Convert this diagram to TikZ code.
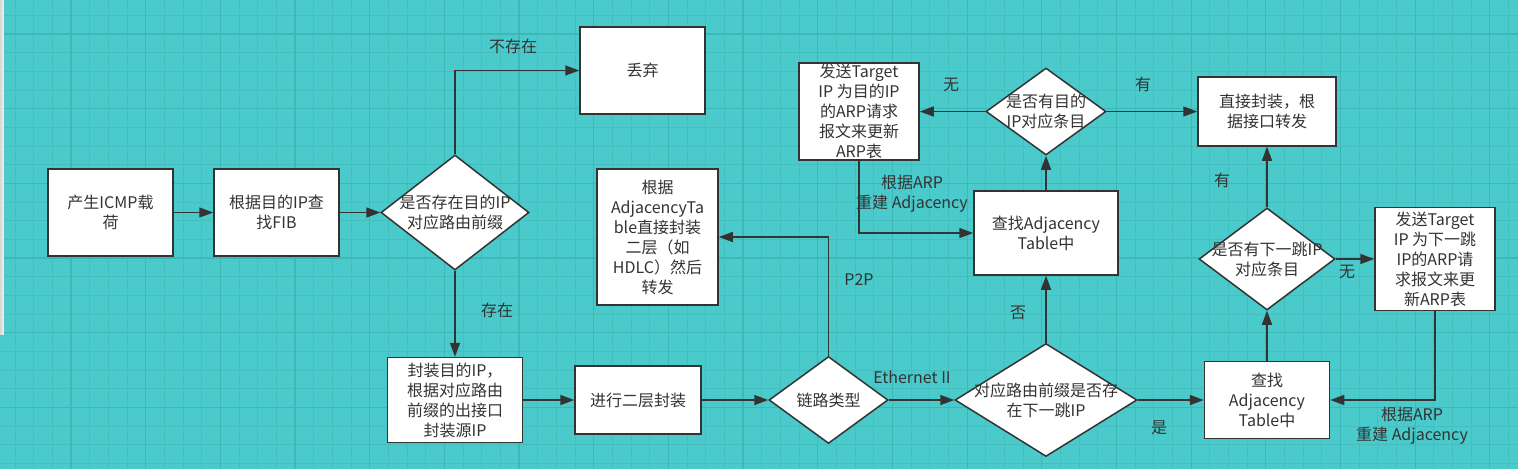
\documentclass[tikz,border=0pt]{standalone}
\usepackage{fontspec}
\setmainfont{Noto Sans CJK SC}
\usetikzlibrary{shapes.geometric,arrows.meta}
\definecolor{bg}{HTML}{4ACACB}
\definecolor{gridminor}{HTML}{43BFC0}
\definecolor{gridmajor}{HTML}{3EB7B8}
\definecolor{ink}{HTML}{333333}
\newcommand\fsz{\fontsize{16}{20}\selectfont}
\tikzset{
  box/.style={draw=ink, line width=1.5pt, fill=white, rectangle, inner sep=0pt, align=center, font=\fsz, text=ink},
  dia/.style={draw=ink, line width=1.5pt, fill=white, diamond, inner sep=0pt},
  txt/.style={align=center, font=\fsz, text=ink, inner sep=0pt},
  lbl/.style={align=center, font=\fsz, text=ink, inner sep=0pt},
  conn/.style={draw=ink, line width=1.5pt, -{Triangle[length=14pt,width=10pt]}},
}
\begin{document}
\begin{tikzpicture}[x=1pt,y=-1pt]
\useasboundingbox (0,0) rectangle (1518,469);
\fill[bg] (0,0) rectangle (1518,469);
\foreach \i in {0,...,82} \draw[gridminor, line width=0.9pt] ({-3.67+18.67*\i},0) -- ({-3.67+18.67*\i},469);
\foreach \i in {0,...,26} \draw[gridminor, line width=0.9pt] (0,{-3.3+18.67*\i}) -- (1518,{-3.3+18.67*\i});
\foreach \k in {-1,...,20} \draw[gridmajor, line width=1.1pt] ({71+74.67*\k},0) -- ({71+74.67*\k},469);
\foreach \k in {-1,...,6} \draw[gridmajor, line width=1.1pt] (0,{34+74.67*\k}) -- (1518,{34+74.67*\k});
\fill[black!15] (0,0) rectangle (2.4,335);
\fill[white!92!black] (2.4,0) rectangle (3.6,335);

% nodes
\node[box, minimum width=125pt, minimum height=87pt] (b1) at (110.5,212.5) {产生ICMP载\\荷};
\node[box, minimum width=125pt, minimum height=87pt] (b2) at (276.5,212.5) {根据目的IP查\\找FIB};
\node[dia, minimum width=148pt, minimum height=115pt] (d1) at (455,212.5) {};
\node[txt] (d1t) at (d1.center) {是否存在目的IP\\对应路由前缀};
\node[box, minimum width=125pt, minimum height=87pt] (drop) at (642.5,70.5) {丢弃};
\node[box, minimum width=135pt, minimum height=85pt] (b5) at (455,400) {封装目的IP，\\根据对应路由\\前缀的出接口\\封装源IP};
\node[box, minimum width=126pt, minimum height=68pt] (b6) at (638,400) {进行二层封装};
\node[dia, minimum width=119pt, minimum height=87pt] (d2) at (828.5,400) {};
\node[txt] (d2t) at (d2.center) {链路类型};
\node[box, minimum width=121pt, minimum height=136pt] (b8) at (657.5,237) {根据\\AdjacencyTa\\ble直接封装\\二层（如\\HDLC）然后\\转发};
\node[dia, minimum width=182pt, minimum height=113pt] (d3) at (1046,400) {};
\node[txt] (d3t) at (d3.center) {对应路由前缀是否存\\在下一跳IP};
\node[box, minimum width=144pt, minimum height=84pt] (b10) at (1046,233) {查找Adjacency\\Table中};
\node[dia, minimum width=120pt, minimum height=87pt] (d4) at (1046,111.5) {};
\node[txt] (d4t) at (d4.center) {是否有目的\\IP对应条目};
\node[box, minimum width=120pt, minimum height=97pt] (b12) at (859,111.5) {发送Target\\IP 为目的IP\\的ARP请求\\报文来更新\\ARP表};
\node[box, minimum width=138pt, minimum height=69pt] (b13) at (1267,111.5) {直接封装，根\\据接口转发};
\node[box, minimum width=125pt, minimum height=77pt] (b14) at (1267,400) {查找\\Adjacency\\Table中};
\node[dia, minimum width=136pt, minimum height=102pt] (d5) at (1267,259) {};
\node[txt] (d5t) at (d5.center) {是否有下一跳IP\\对应条目};
\node[box, minimum width=120pt, minimum height=103pt] (b16) at (1435,259) {发送Target\\IP 为下一跳\\IP的ARP请\\求报文来更\\新ARP表};

% connectors
\draw[conn] (b1.east) -- (b2.west);
\draw[conn] (b2.east) -- (d1.west);
\draw[conn] (d1.north) |- (drop.west);
\draw[conn] (d1.south) -- (b5.north);
\draw[conn] (b5.east) -- (b6.west);
\draw[conn] (b6.east) -- (d2.west);
\draw[conn] (d2.north) |- (b8.east);
\draw[conn] (d2.east) -- (d3.west);
\draw[conn] (d3.north) -- (b10.south);
\draw[conn] (d3.east) -- (b14.west);
\draw[conn] (b10.north) -- (d4.south);
\draw[conn] (d4.west) -- (b12.east);
\draw[conn] (d4.east) -- (b13.west);
\draw[conn] (b12.south) |- (b10.west);
\draw[conn] (b14.north) -- (d5.south);
\draw[conn] (d5.north) -- (b13.south);
\draw[conn] (d5.east) -- (b16.west);
\draw[conn] (b16.south) |- (b14.east);

% labels
\node[lbl] (l1) at (513,46) {不存在};
\node[lbl] (l2) at (497,310) {存在};
\node[lbl] (l3) at (859,280) {P2P};
\node[lbl] (l4) at (912,377) {Ethernet II};
\node[lbl] (l5) at (1018,313) {否};
\node[lbl] (l6) at (1159,428) {是};
\node[lbl] (l7) at (951,85) {无};
\node[lbl] (l8) at (1143,84) {有};
\node[lbl] (l9) at (1222,180) {有};
\node[lbl] (l10) at (1347,272) {无};
\node[lbl] (l11) at (912,194) {根据ARP\\重建 Adjacency};
\node[lbl] (l12) at (1412,426) {根据ARP\\重建 Adjacency};
\end{tikzpicture}
\end{document}
